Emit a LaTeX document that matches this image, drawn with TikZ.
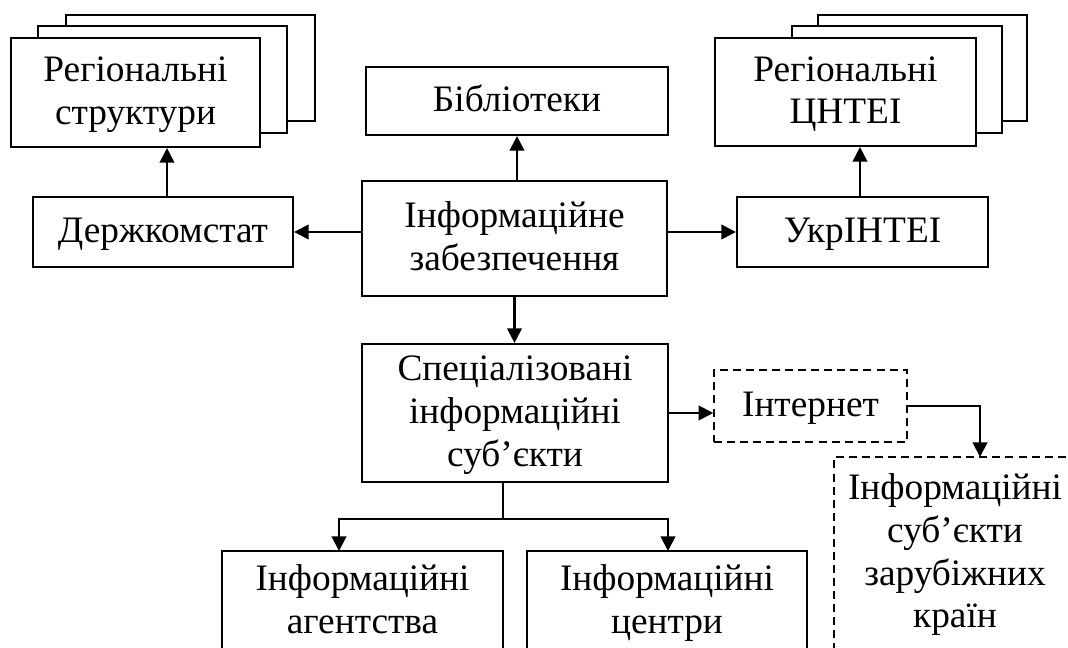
\documentclass[tikz,border=0pt]{standalone}
\usepackage{fontspec}
\setmainfont{Liberation Serif}
\usetikzlibrary{arrows.meta}
\newcommand\mystrut{\rule[-8pt]{0pt}{32pt}}
\begin{document}
\begin{tikzpicture}[x=0.75pt,y=-0.75pt,
  box/.style={draw, line width=1.6pt, fill=white, align=center, inner sep=0pt,
    font=\fontsize{28}{32}\selectfont},
  dbox/.style={box, line width=1.2pt, dash pattern=on 6pt off 3.8pt},
  shadow/.style={draw, line width=1.6pt, fill=white},
  arr/.style={line width=1.6pt, -{Triangle[length=11pt,width=11pt]}},
  ln/.style={line width=1.6pt}]
\useasboundingbox (0,0) rectangle (1068,648);
\clip (0,0) rectangle (1068,648);
% stacked sheets behind the regional boxes
\draw[shadow] (66,15) rectangle (315,121);
\draw[shadow] (38,26) rectangle (287,133);
\draw[shadow] (818,15) rectangle (1027,121);
\draw[shadow] (792,26) rectangle (1002,133);
% nodes
\node[box, minimum width=249*0.75pt, minimum height=109*0.75pt] (regS) at (135.5,92.5) {\mystrut Регіональні\\\mystrut структури};
\node[box, minimum width=261*0.75pt, minimum height=108*0.75pt] (regC) at (845.5,92) {\mystrut Регіональні\\\mystrut ЦНТЕІ};
\node[box, minimum width=302*0.75pt, minimum height=68*0.75pt] (bib) at (517,101) {\mystrut Бібліотеки};
\node[box, minimum width=260*0.75pt, minimum height=70*0.75pt] (derzh) at (163,232) {\mystrut Держкомстат};
\node[box, minimum width=305*0.75pt, minimum height=115*0.75pt] (info) at (514.5,238.5) {\mystrut Інформаційне\\\mystrut забезпечення};
\node[box, minimum width=251*0.75pt, minimum height=70*0.75pt] (ukr) at (862.5,232) {\mystrut УкрІНТЕІ};
\node[box, minimum width=306*0.75pt, minimum height=138*0.75pt] (spec) at (515,413) {\mystrut Спеціалізовані\\\mystrut інформаційні\\\mystrut суб’єкти};
\node[dbox, minimum width=193*0.75pt, minimum height=72*0.75pt] (inet) at (810.5,406) {\mystrut Інтернет};
\node[dbox, minimum width=242*0.75pt, minimum height=192*0.75pt] (foreign) at (955,553) {\mystrut Інформаційні\\\mystrut суб’єкти\\\mystrut зарубіжних\\\mystrut країн};
\node[box, minimum width=281*0.75pt, minimum height=101*0.75pt] (agency) at (362.5,601.5) {\mystrut Інформаційні\\\mystrut агентства};
\node[box, minimum width=280*0.75pt, minimum height=101*0.75pt] (centres) at (667,601.5) {\mystrut Інформаційні\\\mystrut центри};
% helper coordinates
\coordinate (xb) at (517,0);
\coordinate (xs) at (167,0);
\coordinate (xc) at (860,0);
\coordinate (br) at (503,519);
\coordinate (ta) at (339,551);
\coordinate (tc) at (668,551);
\coordinate (ti) at (980,457);
% connectors
\draw[arr] (info.north -| xb) -- (bib.south -| xb);
\draw[arr] (info.west |- derzh) -- (derzh.east);
\draw[arr] (info.east |- ukr) -- (ukr.west);
\draw[arr] (derzh.north -| xs) -- (regS.south -| xs);
\draw[arr] (ukr.north -| xc) -- (regC.south -| xc);
\draw[arr] (info.south) -- (info.south |- spec.north);
\draw[arr] (spec.east) -- (spec.east -| inet.west);
\draw[arr] (inet.east) -| (ti);
\draw[line width=1pt] (spec.south -| br) -- (br);
\draw[arr] (br) -| (ta);
\draw[arr] (br) -| (tc);
\end{tikzpicture}
\end{document}
